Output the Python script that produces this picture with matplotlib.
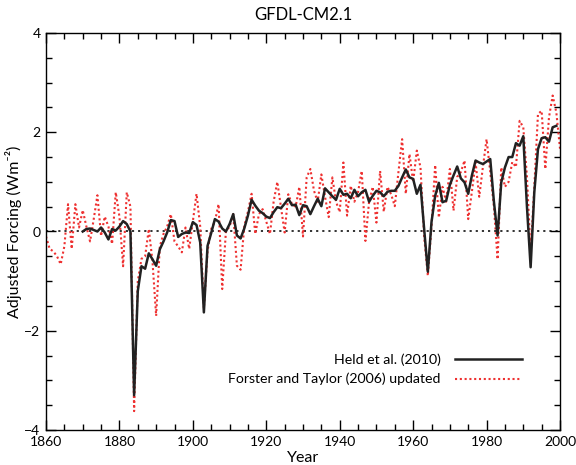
import matplotlib
matplotlib.use("Agg")
import matplotlib.pyplot as plt
from matplotlib.ticker import MultipleLocator

# Held et al. (2010) adjusted forcing, 1870-1999
held_years = list(range(1870, 2000))
held_values = [
    0.00, 0.05, 0.06, 0.03, 0.00, 0.08, -0.02, -0.16, 0.05, 0.02,   # 1870s
    0.10, 0.21, 0.15, 0.00, -3.30, -1.20, -0.70, -0.75, -0.44, -0.56,  # 1880s
    -0.69, -0.36, -0.20, -0.02, 0.23, 0.21, -0.11, -0.05, -0.02, -0.03,  # 1890s
    0.19, 0.13, -0.22, -1.63, -0.29, -0.03, 0.25, 0.20, 0.06, 0.00,  # 1900s
    0.15, 0.35, -0.08, -0.14, 0.06, 0.32, 0.64, 0.52, 0.42, 0.37,  # 1910s
    0.30, 0.27, 0.39, 0.49, 0.47, 0.56, 0.66, 0.53, 0.54, 0.33,  # 1920s
    0.53, 0.51, 0.35, 0.51, 0.66, 0.51, 0.87, 0.79, 0.71, 0.64,  # 1930s
    0.86, 0.74, 0.76, 0.67, 0.84, 0.71, 0.79, 0.84, 0.60, 0.72,  # 1940s
    0.82, 0.79, 0.71, 0.80, 0.82, 0.82, 0.92, 1.09, 1.25, 1.09,  # 1950s
    1.06, 0.76, 0.94, 0.05, -0.81, 0.19, 0.72, 0.98, 0.59, 0.62,  # 1960s
    0.94, 1.13, 1.31, 1.07, 0.99, 0.76, 1.13, 1.43, 1.39, 1.36,  # 1970s
    1.41, 1.46, 0.60, -0.08, 0.99, 1.29, 1.50, 1.50, 1.78, 1.73,  # 1980s
    1.92, 0.50, -0.72, 0.79, 1.66, 1.88, 1.90, 1.81, 2.10, 2.13,  # 1990s
]

# Forster and Taylor (2006) updated, 1860-2000
ft_years = list(range(1860, 2001))
ft_values = [
    -0.10, -0.35, -0.40, -0.50, -0.66, -0.30, 0.55, -0.35, 0.55, 0.08,  # 1860s
    0.43, 0.10, -0.20, 0.25, 0.73, -0.09, 0.30, 0.10, -0.25, 0.79,  # 1870s
    0.30, -0.70, 0.79, 0.50, -3.62, -1.00, -0.55, -0.50, 0.05, -0.60,  # 1880s
    -1.70, -0.30, -0.05, 0.10, 0.35, -0.20, -0.30, -0.42, 0.08, -0.35,  # 1890s
    0.20, 0.76, 0.10, -1.55, -0.40, 0.05, 0.20, 0.55, -1.16, 0.00,  # 1900s
    0.10, 0.35, -0.69, -0.77, 0.10, 0.40, 0.76, -0.05, 0.35, 0.45,  # 1910s
    0.20, -0.05, 0.60, 1.00, 0.49, -0.02, 0.75, 0.55, 0.50, 0.90,  # 1920s
    -0.10, 1.09, 1.26, 0.82, 0.60, 1.15, 0.70, 0.29, 1.09, 0.60,  # 1930s
    0.39, 1.39, 0.32, 0.92, 0.60, 0.80, 1.22, -0.19, 0.60, 0.90,  # 1940s
    0.18, 1.22, 0.40, 0.90, 0.75, 0.51, 1.20, 1.86, 0.76, 1.56,  # 1950s
    1.00, 1.63, 1.29, -0.10, -0.89, 0.10, 1.34, 0.28, 0.90, 0.60,  # 1960s
    1.26, 0.42, 1.10, 1.20, 1.43, 0.25, 0.80, 1.40, 0.70, 1.30,  # 1970s
    1.86, 1.20, 0.50, -0.56, 1.29, 0.90, 1.00, 1.40, 1.30, 2.23,  # 1980s
    2.10, 1.10, -0.45, 0.90, 2.37, 2.43, 1.26, 2.30, 2.74, 2.40,  # 1990s
    1.67,  # 2000
]

title = "GFDL-CM2.1"
xlabel = "Year"
ylabel = "Adjusted Forcing (Wm\u207b\u00b2)"
held_label = "Held et al. (2010)"
ft_label = "Forster and Taylor (2006) updated"

plt.rcParams['font.family'] = ['Lato', 'DejaVu Sans']

fig = plt.figure(figsize=(5.76, 4.65), dpi=100)
ax = fig.add_axes([46 / 576, 35 / 465, 514 / 576, 397 / 465])

ax.axhline(0, color='#222222', linestyle=(0, (1.2, 2.2)), linewidth=1.3, zorder=1)
ax.plot(held_years, held_values, color='#222222', linewidth=1.8, label=held_label, zorder=3)
ax.plot(ft_years, ft_values, color='#ee3030', linewidth=1.5,
        linestyle=(0, (1, 1.3)), label=ft_label, zorder=2)

ax.set_xlim(1860, 2000)
ax.set_ylim(-4, 4)
ax.xaxis.set_major_locator(MultipleLocator(20))
ax.xaxis.set_minor_locator(MultipleLocator(5))
ax.yaxis.set_major_locator(MultipleLocator(2))
ax.yaxis.set_minor_locator(MultipleLocator(0.5))
ax.tick_params(which='both', direction='in', top=True, right=True,
               labelsize=10, width=1.0)
ax.tick_params(axis='x', pad=4)
ax.tick_params(axis='y', pad=4)
ax.tick_params(which='major', length=7)
ax.tick_params(which='minor', length=4)
for s in ax.spines.values():
    s.set_linewidth(1.0)

ax.set_title(title, fontsize=12, pad=9)
ax.set_xlabel(xlabel, fontsize=11.5, labelpad=2.5)
ax.set_ylabel(ylabel, fontsize=11.5)
ax.yaxis.set_label_coords(-0.047, 0.5)

ax.legend(loc='lower right', bbox_to_anchor=(0.95, 0.08), frameon=False,
          markerfirst=False, handlelength=4.7, fontsize=10.2, labelspacing=0.5,
          handletextpad=1.0)

fig.savefig("out.png", dpi=100)
